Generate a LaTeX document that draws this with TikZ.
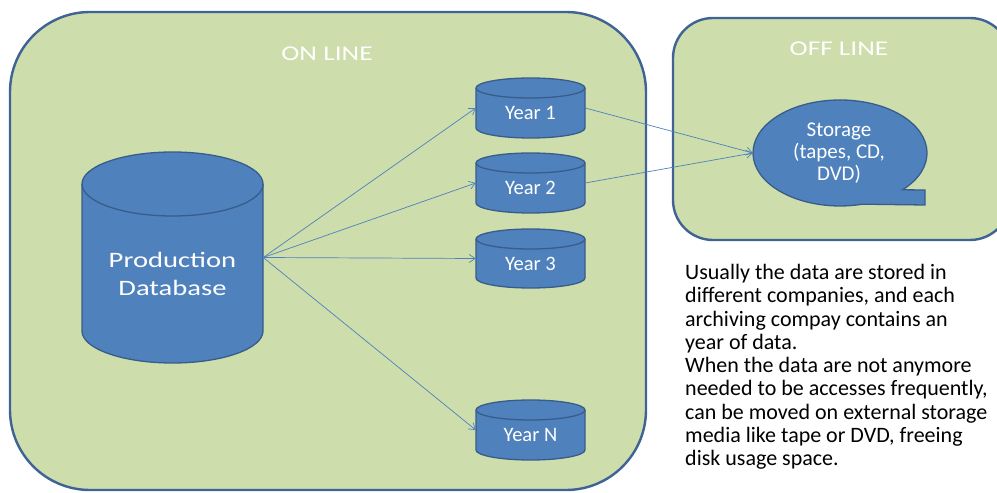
\documentclass[tikz,border=0pt]{standalone}
\usepackage{fontspec}
\setmainfont{Carlito}
\newfontfamily\labfont[FakeStretch=1.3]{Carlito}
\usetikzlibrary{arrows.meta,shapes.geometric}
\definecolor{zonefill}{RGB}{205,221,172}
\definecolor{zoneline}{RGB}{62,99,148}
\definecolor{cylfill}{RGB}{79,129,189}
\definecolor{cylline}{RGB}{56,93,138}
\definecolor{arrowc}{RGB}{79,129,189}
\tikzset{
  zone/.style={fill=zonefill,draw=zoneline,line width=2.4pt},
  cylbody/.style={fill=cylfill,draw=cylline,line width=1.3pt},
  whitelab/.style={text=white,inner sep=0pt,align=center},
  link/.style={draw=arrowc,line width=0.7pt,-{Straight Barb[length=6pt,width=8pt]}},
  holder/.style={rectangle,inner sep=0pt,draw=none},
}
% #1 name, #2 x-left, #3 x-right, #4 Ytop, #5 Ybottom, #6 ry, #7 label, #8 font
\newcommand\dbcyl[8]{%
  \pgfmathsetmacro\cxr{(#3-#2)/2}%
  \pgfmathsetmacro\cxm{(#3+#2)/2}%
  \path[cylbody] (#2,#4-#6) -- (#2,#5+#6)
     arc[start angle=180,end angle=360,x radius=\cxr,y radius=#6]
     -- (#3,#4-#6)
     arc[start angle=0,end angle=180,x radius=\cxr,y radius=#6] -- cycle;
  \draw[cylline,line width=1.3pt] (#2,#4-#6) arc[start angle=180,end angle=360,x radius=\cxr,y radius=#6];
  \node[holder,minimum width=#3-#2,minimum height=#4-#5] (#1) at (\cxm,{(#4+#5)/2}) {};
  \node[whitelab,font=#8] at (\cxm,{(#4+#5)/2-#6/2}) {#7};
}
\begin{document}
\begin{tikzpicture}[x=1pt,y=1pt]
\useasboundingbox (0,0) rectangle (997,493);
% zones
\path[zone,rounded corners=80pt] (10,3) rectangle (646,481);
\path[zone,rounded corners=40pt] (673,253) rectangle (1010,475);
\node[whitelab,font=\labfont\fontsize{21}{24}\selectfont] (online) at (327,439) {ON LINE};
\node[whitelab,font=\labfont\fontsize{21}{24}\selectfont] (offline) at (839,444) {OFF LINE};
% cylinders
\dbcyl{db}{82}{263}{341}{130}{32}{Production\\Database}{\labfont\fontsize{22}{28}\selectfont}
\dbcyl{y1}{476}{585}{415}{355}{10}{Year 1}{\fontsize{20.5}{22}\selectfont}
\dbcyl{y2}{476}{585}{340}{280}{10}{Year 2}{\fontsize{20.5}{22}\selectfont}
\dbcyl{y3}{476}{585}{264}{205}{10}{Year 3}{\fontsize{20.5}{22}\selectfont}
\dbcyl{yn}{476}{585}{93}{33}{10}{Year N}{\fontsize{20.5}{22}\selectfont}
% storage callout
\path[cylbody] (925,303) -- (902.6,303.2)
   arc[start angle=-44,end angle=285,x radius=87,y radius=53]
   -- (925,288) -- cycle;
\node[ellipse,minimum width=174,minimum height=106,inner sep=0pt] (st) at (840,340) {};
\node[whitelab,font=\fontsize{21}{22}\selectfont] at (839,340) {Storage\\(tapes, CD,\\DVD)};
% connectors
\draw[link] (db.east) -- (y1.west);
\draw[link] (db.east) -- (y2.west);
\draw[link] (db.east) -- (y3.west);
\draw[link] (db.east) -- (yn.west);
\draw[link] (y1.east) -- (st.west);
\draw[link] (y2.east) -- (st.west);
% note
\node[anchor=north west,inner sep=0pt,align=left,font=\fontsize{22}{23.3}\selectfont] (note) at (685,229)
{Usually the data are stored in\\different companies, and each\\archiving compay contains an\\year of data.\\When the data are not anymore\\needed to be accesses frequently,\\can be moved on external storage\\media like tape or DVD, freeing\\disk usage space.};
\end{tikzpicture}
\end{document}
